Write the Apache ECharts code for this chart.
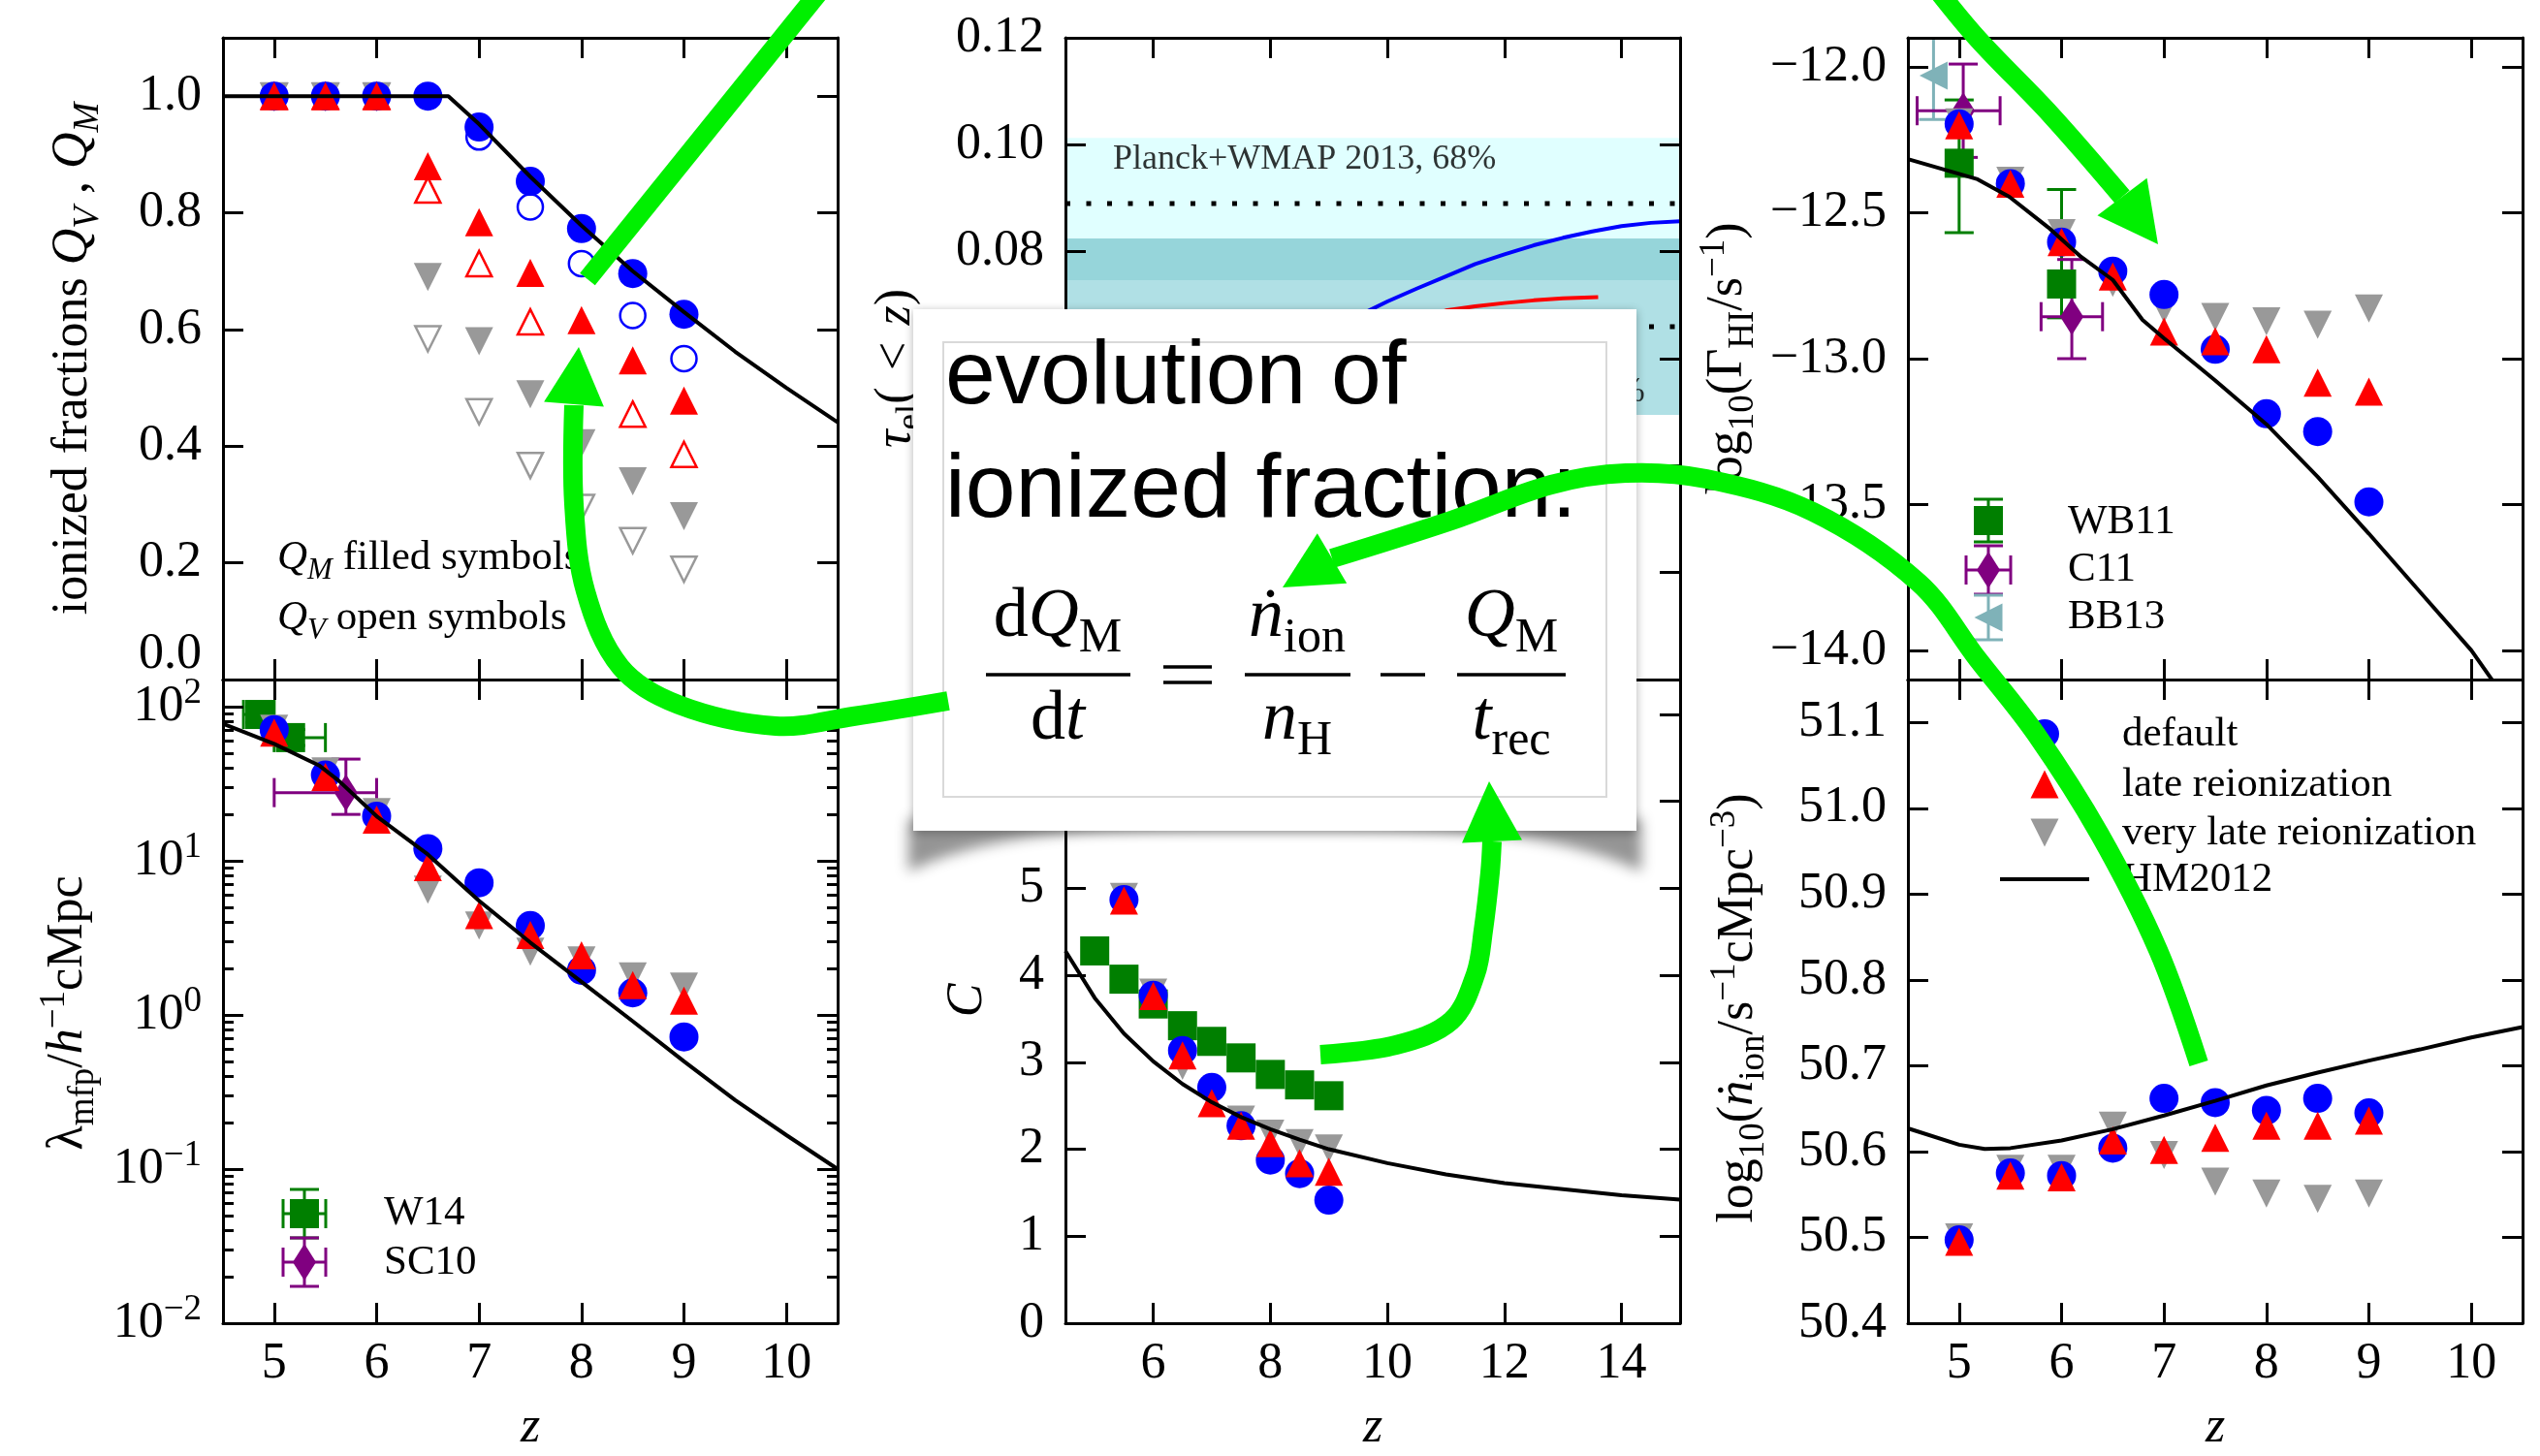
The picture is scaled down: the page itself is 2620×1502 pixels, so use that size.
<!DOCTYPE html>
<html>
<head>
<meta charset="utf-8">
<title>Reionization simulations: ionized fraction, optical depth, photoionization rate</title>
<script src="https://cdn.jsdelivr.net/npm/echarts@6/dist/echarts.min.js"></script>
<style>
  html, body { margin: 0; padding: 0; background: #ffffff; }
  #chart { width: 2620px; height: 1502px; }
</style>
</head>
<body>
<div id="chart"></div>
<script>
// ---------------------------------------------------------------------------
// Data
// ---------------------------------------------------------------------------
const zSim = [5, 5.5, 6, 6.5, 7, 7.5, 8, 8.5, 9];

// ionized fractions: mass weighted (Q_M) and volume weighted (Q_V)
const qmDefault  = [1.0, 1.0, 1.0, 1.0, 0.947, 0.854, 0.773, 0.696, 0.626];
const qvDefault  = [1.0, 1.0, 1.0, 1.0, 0.930, 0.810, 0.713, 0.624, 0.550];
const qmLate     = [1.0, 1.0, 1.0, 0.880, 0.784, 0.697, 0.616, 0.547, 0.478];
const qvLate     = [1.0, 1.0, 1.0, 0.839, 0.713, 0.613, 0.520, 0.455, 0.386];
const qmVeryLate = [1.0, 1.0, 1.0, 0.690, 0.580, 0.489, 0.405, 0.340, 0.280];
const qvVeryLate = [1.0, 1.0, 1.0, 0.584, 0.459, 0.367, 0.295, 0.238, 0.189];
const zQHM = [4.5, 6.7, 7.0, 7.5, 8.0, 8.5, 9.0, 9.5, 10.0, 10.5];
const qHM  = [1.0, 1.0, 0.952, 0.862, 0.778, 0.700, 0.630, 0.562, 0.500, 0.441];

// Thomson optical depth tau_el(<z)
const zTauDefault = [4.5, 5, 5.5, 6, 6.5, 7, 7.5, 8, 8.5, 9, 9.5, 10, 10.5, 11, 11.5, 12, 12.5, 13, 13.5, 14, 14.5, 15];
const tauDefault  = [0.030, 0.034, 0.038, 0.042, 0.046, 0.050, 0.054, 0.058, 0.0615, 0.065, 0.068, 0.0707, 0.0731, 0.0754, 0.0777, 0.0795, 0.0812, 0.0826, 0.0838, 0.0848, 0.0854, 0.0857];
const zTauLate = [4.5, 5, 5.5, 6, 6.5, 7, 7.5, 8, 8.5, 9, 9.5, 10, 10.5, 11, 11.5, 12, 12.5, 13, 13.6];
const tauLate  = [0.028, 0.031, 0.034, 0.037, 0.040, 0.044, 0.048, 0.052, 0.056, 0.060, 0.063, 0.0655, 0.0675, 0.0690, 0.0698, 0.0704, 0.0709, 0.0713, 0.0715];
const planck13Band = [0.0747, 0.1013];
const planck13Tau = 0.089;
const planck15Band = [0.0495, 0.0825];
const planck15Tau = 0.066;

// log10 photoionization rate
const gamDefault  = [-12.195, -12.400, -12.600, -12.700, -12.780, -12.968, -13.189, -13.250, -13.491];
const gamLate     = [-12.200, -12.400, -12.600, -12.718, -12.907, -12.940, -12.968, -13.082, -13.113];
const gamVeryLate = [-12.190, -12.390, -12.570, -12.740, -12.830, -12.857, -12.872, -12.884, -12.828];
const zGamHM = [4.5, 5.18, 5.49, 5.87, 6.19, 6.5, 6.79, 7.0, 7.5, 8.0, 8.5, 9.0, 9.5, 10.0, 10.5];
const gamHM  = [-12.316, -12.385, -12.445, -12.550, -12.651, -12.730, -12.867, -12.930, -13.075, -13.225, -13.405, -13.600, -13.800, -14.000, -14.250];
// observations: [z, value, zLow, zHigh, valueLow, valueHigh]
const obsWB11 = [[5.0, -12.33, 5.0, 5.0, -12.568, -12.113], [6.0, -12.744, 6.0, 6.0, -12.86, -12.42]];
const obsC11  = [[5.04, -12.15, 4.59, 5.40, -12.31, -11.99], [6.10, -12.856, 5.80, 6.40, -13.0, -12.66]];
const obsBB13 = [[4.75, -12.03, 4.75, 4.75, -12.18, -11.83]];

// mean free path (h^-1 cMpc)
const mfpDefault  = [71, 36, 19.5, 12.0, 7.2, 3.8, 1.95, 1.39, 0.72];
const mfpLate     = [68, 35, 18.5, 9.1, 4.45, 3.3, 2.44, 1.56, 1.24];
const mfpVeryLate = [72, 38, 20.7, 6.5, 3.8, 2.57, 2.26, 1.78, 1.53];
const zMfpHM = [4.5, 5.0, 5.445, 5.63, 6.01, 6.5, 7.0, 7.5, 8.0, 8.5, 9.0, 9.5, 10.0, 10.5];
const mfpHM  = [77.4, 57.4, 41.3, 33.1, 19.2, 11.0, 5.5, 2.95, 1.64, 0.91, 0.50, 0.28, 0.166, 0.10];
const obsW14  = [[4.86, 89, 4.70, 5.00, 79, 100], [5.16, 63, 5.00, 5.50, 56, 71]];
const obsSC10 = [[5.70, 27.7, 5.00, 6.00, 20, 45.7]];

// clumping factor
const zClump = [5.5, 6, 6.5, 7, 7.5, 8, 8.5, 9];
const clumpDefault  = [4.87, 3.77, 3.135, 2.71, 2.27, 1.876, 1.72, 1.415];
const clumpLate     = [4.86, 3.76, 3.08, 2.53, 2.27, 2.07, 1.84, 1.74];
const clumpVeryLate = [4.90, 3.80, 2.96, 2.60, 2.34, 2.18, 2.07, 2.01];
const zClumpFit = [5, 5.5, 6, 6.5, 7, 7.5, 8, 8.5, 9];
const clumpFit  = [4.28, 3.955, 3.67, 3.42, 3.24, 3.05, 2.86, 2.74, 2.615];
const zClumpHM = [4.5, 5, 5.5, 6, 6.5, 7, 7.5, 8, 8.5, 9, 10, 11, 12, 13, 14, 15];
const clumpHM  = [4.28, 3.74, 3.33, 3.01, 2.75, 2.54, 2.37, 2.23, 2.11, 2.00, 1.84, 1.71, 1.61, 1.54, 1.47, 1.42];

// log10 ionizing emissivity
const nionDefault  = [50.497, 50.575, 50.572, 50.604, 50.662, 50.657, 50.648, 50.662, 50.645];
const nionLate     = [50.495, 50.572, 50.570, 50.613, 50.602, 50.616, 50.630, 50.630, 50.636];
const nionVeryLate = [50.500, 50.580, 50.580, 50.630, 50.596, 50.565, 50.551, 50.545, 50.551];
const zNionHM = [4.5, 5.0, 5.25, 5.5, 6, 6.5, 7, 7.5, 8, 8.5, 9, 9.5, 10, 10.5];
const nionHM  = [50.627, 50.608, 50.603, 50.604, 50.613, 50.626, 50.642, 50.659, 50.677, 50.692, 50.706, 50.719, 50.733, 50.745];

// tick positions
const zTicks = [5, 6, 7, 8, 9, 10];
const zTicksWide = [6, 8, 10, 12, 14];
const qTicks = [0, 0.2, 0.4, 0.6, 0.8, 1.0];
const tauTicks = [0, 0.02, 0.04, 0.06, 0.08, 0.10, 0.12];
const gamTicks = [-14.0, -13.5, -13.0, -12.5, -12.0];
const mfpDecades = [-2, -1, 0, 1, 2];
const clumpTicks = [0, 1, 2, 3, 4, 5, 6, 7];
const nionTicks = [50.4, 50.5, 50.6, 50.7, 50.8, 50.9, 51.0, 51.1];

// ---------------------------------------------------------------------------
// Styling
// ---------------------------------------------------------------------------
const SERIF = 'Liberation Serif, Times New Roman, Times, serif';
const SANS = 'Liberation Sans, Helvetica, Arial, sans-serif';
const BLUE = '#0000ff', RED = '#ff0000', GRAY = '#999999';
const OBS_GREEN = '#007f00', PURPLE = '#800080', TEAL = '#7fb2b8';
const ARROW = '#00f000';
const FS = 52;       // tick / axis label size
const LFS = 43;      // legend text size

// rich styles for rotated axis titles
const RICH = {
  it:    { fontFamily: SERIF, fontStyle: 'italic', fontSize: FS, fill: '#000' },
  sub:   { fontFamily: SERIF, fontSize: 37, padding: [32, 0, 0, 0], fill: '#000' },
  subit: { fontFamily: SERIF, fontStyle: 'italic', fontSize: 37, padding: [32, 0, 0, 0], fill: '#000' },
  sup:   { fontFamily: SERIF, fontSize: 37, padding: [0, 0, 28, 0], fill: '#000' }
};
// rich styles for tick labels
const TICKRICH = {
  n:    { fontFamily: SERIF, fontSize: FS, fill: '#000' },
  lift: { fontFamily: SERIF, fontSize: FS, fill: '#000', padding: [0, 0, 52, 0] },
  sup:  { fontFamily: SERIF, fontSize: 37, fill: '#000', padding: [0, 0, 28, 0] }
};

const panels = [
  { left: 230,  top: 39,  width: 634, height: 662 },  // ionized fractions
  { left: 1099, top: 39,  width: 634, height: 662 },  // optical depth
  { left: 1968, top: 39,  width: 634, height: 662 },  // photoionization rate
  { left: 230,  top: 701, width: 634, height: 664 },  // mean free path
  { left: 1099, top: 701, width: 634, height: 664 },  // clumping factor
  { left: 1968, top: 701, width: 634, height: 664 }   // emissivity
];

const option = {
  animation: false,
  backgroundColor: '#ffffff',
  textStyle: { fontFamily: SERIF, color: '#000' },
  grid: [], xAxis: [], yAxis: [], series: [],
  graphic: { elements: [] }
};
const ax = [];
const S = option.series;

function tickStyle(values, len) {
  return { show: true, inside: true, length: len, customValues: values,
           lineStyle: { color: '#000', width: 3 } };
}
function baseAxis(gi) {
  return { type: 'value', gridIndex: gi, z: 5, splitLine: { show: false }, axisLabel: { show: false },
           axisLine: { show: true, onZero: false, lineStyle: { color: '#000', width: 3 } } };
}

// tick labels placed through the axis scales
function tickLabels(gi, dir, values, fmt, fixed) {
  return {
    type: 'custom', xAxisIndex: ax[gi].x, yAxisIndex: ax[gi].y, z: 6, silent: true, clip: false,
    dimensions: ['v'], encode: dir === 'x' ? { x: 0 } : { y: 0 },
    data: values.map(v => [v]),
    renderItem(params, api) {
      const v = api.value(0);
      const p = dir === 'x' ? api.coord([v, fixed]) : api.coord([fixed, v]);
      const isX = dir === 'x';
      return {
        type: 'text', x: isX ? p[0] : p[0] - 22, y: isX ? p[1] + 16 : p[1],
        style: {
          text: fmt(v), rich: TICKRICH, fontFamily: SERIF, fontSize: FS, fill: '#000',
          align: isX ? 'center' : 'right', textAlign: isX ? 'center' : 'right',
          verticalAlign: isX ? 'top' : 'middle', textVerticalAlign: isX ? 'top' : 'middle'
        }
      };
    }
  };
}

function addPanel(gi, xc, yc) {
  const p = panels[gi];
  option.grid.push({ left: p.left, top: p.top, width: p.width, height: p.height, containLabel: false });
  const xb = Object.assign(baseAxis(gi), {
    position: 'bottom', min: xc.min, max: xc.max, axisTick: tickStyle(xc.ticks, 21)
  });
  if (xc.labels) {
    Object.assign(xb, { name: 'z', nameLocation: 'middle', nameGap: 82,
      nameTextStyle: { fontFamily: SERIF, fontStyle: 'italic', fontSize: FS, color: '#000' } });
  }
  const xi = option.xAxis.push(xb) - 1;
  option.xAxis.push(Object.assign(baseAxis(gi), {
    position: 'top', min: xc.min, max: xc.max, axisTick: tickStyle(xc.ticks, 21)
  }));
  const yi = option.yAxis.push(Object.assign(baseAxis(gi), {
    position: 'left', min: yc.min, max: yc.max, axisTick: tickStyle(yc.ticks, 21)
  })) - 1;
  option.yAxis.push(Object.assign(baseAxis(gi), {
    position: 'right', min: yc.min, max: yc.max, axisTick: tickStyle(yc.ticks, 21)
  }));
  if (yc.minor) {
    ['left', 'right'].forEach(pos => {
      option.yAxis.push({ type: 'value', gridIndex: gi, position: pos, min: yc.min, max: yc.max, z: 5,
        splitLine: { show: false }, axisLine: { show: false, onZero: false },
        axisTick: tickStyle(yc.minor, 11), axisLabel: { show: false } });
    });
  }
  ax[gi] = { x: xi, y: yi };
  if (xc.labels) S.push(tickLabels(gi, 'x', xc.ticks, v => '{n|' + v + '}', yc.min));
  S.push(tickLabels(gi, 'y', yc.ticks, yc.fmt, xc.min));
}

const tok = s => '{n|' + s + '}';
const fmtFixed = d => v => tok(v.toFixed(d));
const fmtQ = v => (Math.abs(v) < 1e-9 ? '{lift|0.0}' : tok(v.toFixed(1)));
const fmtMinus = v => tok((v < 0 ? '\u2212' : '') + Math.abs(v).toFixed(1));
const fmtPow = v => { const n = Math.round(v); return '{n|10}{sup|' + (n < 0 ? '\u2212' + (-n) : String(n)) + '}'; };
const log10 = v => Math.log10(v);

const mfpMinor = [];
for (let d = -2; d <= 1; d++) for (let k = 2; k <= 9; k++) mfpMinor.push(Math.log10(k * Math.pow(10, d)));

addPanel(0, { min: 4.5, max: 10.5, ticks: zTicks, labels: false }, { min: 0, max: 1.1, ticks: qTicks, fmt: fmtQ });
addPanel(1, { min: 4.5, max: 15, ticks: zTicksWide, labels: false }, { min: 0, max: 0.12, ticks: tauTicks, fmt: fmtFixed(2) });
addPanel(2, { min: 4.5, max: 10.5, ticks: zTicks, labels: false }, { min: -14.1, max: -11.9, ticks: gamTicks, fmt: fmtMinus });
addPanel(3, { min: 4.5, max: 10.5, ticks: zTicks, labels: true }, { min: -2, max: Math.log10(150), ticks: mfpDecades, fmt: fmtPow, minor: mfpMinor });
addPanel(4, { min: 4.5, max: 15, ticks: zTicksWide, labels: true }, { min: 0, max: 7.4, ticks: clumpTicks, fmt: v => tok(String(Math.round(v))) });
addPanel(5, { min: 4.5, max: 10.5, ticks: zTicks, labels: true }, { min: 50.4, max: 51.15, ticks: nionTicks, fmt: fmtFixed(1) });

// ---------------------------------------------------------------------------
// Series helpers
// ---------------------------------------------------------------------------
const SYMBOLS = {
  circle:  ['circle', 30, 0],
  up:      ['triangle', 29, 0],
  down:    ['triangle', 29, 180],
  left:    ['triangle', 29, 90],
  square:  ['rect', 30, 0],
  diamond: ['diamond', [24, 38], 0]
};
function scatter(name, gi, xs, ys, kind, color, opts) {
  opts = opts || {};
  const s = SYMBOLS[kind];
  const tf = opts.tf || (v => v);
  const data = [];
  xs.forEach((x, i) => { if (ys[i] != null) data.push([x, tf(ys[i])]); });
  return {
    type: 'scatter', name, xAxisIndex: ax[gi].x, yAxisIndex: ax[gi].y, z: opts.z || 3, silent: true,
    symbol: s[0], symbolSize: opts.open ? 26 : s[1], symbolRotate: s[2],
    itemStyle: opts.open
      ? { color: 'rgba(255,255,255,0)', borderColor: color, borderWidth: 2.5, opacity: 1 }
      : { color, opacity: 1 },
    data
  };
}
function curve(name, gi, xs, ys, color, width, tf, dash) {
  const f = tf || (v => v);
  return {
    type: 'line', name, xAxisIndex: ax[gi].x, yAxisIndex: ax[gi].y, z: dash ? 3 : 4, silent: true,
    symbol: 'none', showSymbol: false, smooth: false, clip: true,
    lineStyle: dash ? { color, width, type: dash, cap: 'butt' } : { color, width },
    data: xs.map((x, i) => [x, f(ys[i])])
  };
}
const CAP = 15;
function errorBars(gi, rows, color, tf) {
  const f = tf || (v => v);
  return {
    type: 'custom', xAxisIndex: ax[gi].x, yAxisIndex: ax[gi].y, z: 2, silent: true,
    dimensions: ['x', 'y', 'x0', 'x1', 'y0', 'y1'], encode: { x: 0, y: 1 },
    data: rows.map(r => [r[0], f(r[1]), r[2], r[3], f(r[4]), f(r[5])]),
    renderItem(params, api) {
      const cs = params.coordSys, top = cs.y, bottom = cs.y + cs.height;
      const clampY = y => Math.min(bottom, Math.max(top, y));
      const x = api.value(0), y = api.value(1);
      const x0 = api.value(2), x1 = api.value(3), y0 = api.value(4), y1 = api.value(5);
      const st = { stroke: color, lineWidth: 3 };
      const kids = [];
      const seg = (a, b, c, d) => kids.push({ type: 'line', shape: { x1: a, y1: b, x2: c, y2: d }, style: st });
      if (x1 > x0) {
        const a = api.coord([x0, y]), b = api.coord([x1, y]);
        seg(a[0], a[1], b[0], b[1]);
        seg(a[0], a[1] - CAP, a[0], a[1] + CAP);
        seg(b[0], b[1] - CAP, b[0], b[1] + CAP);
      }
      if (y1 > y0) {
        const a = api.coord([x, y0]), b = api.coord([x, y1]);
        seg(a[0], clampY(a[1]), b[0], clampY(b[1]));
        if (a[1] >= top && a[1] <= bottom) seg(a[0] - CAP, a[1], a[0] + CAP, a[1]);
        if (b[1] >= top && b[1] <= bottom) seg(b[0] - CAP, b[1], b[0] + CAP, b[1]);
      }
      return { type: 'group', children: kids };
    }
  };
}
function textPoint(gi, x, y, text, position, size) {
  return {
    type: 'scatter', xAxisIndex: ax[gi].x, yAxisIndex: ax[gi].y, z: 3, silent: true,
    symbolSize: 0, data: [[x, y]],
    label: { show: true, position, distance: 0, formatter: text,
             fontFamily: SERIF, fontSize: size, color: '#000' }
  };
}

// ionized fractions
S.push(scatter('very late reionization', 0, zSim, qvVeryLate, 'down', GRAY, { open: true }));
S.push(scatter('late reionization', 0, zSim, qvLate, 'up', RED, { open: true }));
S.push(scatter('default', 0, zSim, qvDefault, 'circle', BLUE, { open: true }));
S.push(scatter('very late reionization', 0, zSim, qmVeryLate, 'down', GRAY));
S.push(scatter('default', 0, zSim, qmDefault, 'circle', BLUE));
S.push(scatter('late reionization', 0, zSim, qmLate, 'up', RED));
S.push(curve('HM2012', 0, zQHM, qHM, '#000', 4));

// optical depth with CMB constraints (68% bands and central values)
S.push({
  type: 'line', name: 'CMB constraints', xAxisIndex: ax[1].x, yAxisIndex: ax[1].y, z: 1, silent: true,
  symbol: 'none', showSymbol: false, lineStyle: { width: 0, opacity: 0 },
  data: [[4.5, planck13Tau], [15, planck13Tau]],
  markArea: {
    silent: true,
    data: [
      [{ yAxis: planck13Band[0], itemStyle: { color: '#e0ffff' } }, { yAxis: planck13Band[1] }],
      [{ yAxis: planck15Band[0], itemStyle: { color: '#b0e0e5' } }, { yAxis: planck15Band[1] }],
      [{ yAxis: Math.max(planck13Band[0], planck15Band[0]), itemStyle: { color: '#96d5da' } },
       { yAxis: Math.min(planck13Band[1], planck15Band[1]) }]
    ]
  }
});
S.push(curve('Planck+WMAP 2013', 1, [4.5, 15], [planck13Tau, planck13Tau], '#000', 5, null, [5, 16.5]));
S.push(curve('Planck 2015', 1, [4.5, 15], [planck15Tau, planck15Tau], '#000', 5, null, [5, 16.5]));
S.push(curve('default', 1, zTauDefault, tauDefault, BLUE, 4));
S.push(curve('late reionization', 1, zTauLate, tauLate, RED, 4));
S.push(textPoint(1, 5.31, 0.0972, 'Planck+WMAP 2013, 68%', 'right', 36));
S.push(textPoint(1, 14.4, 0.0537, 'Planck 2015, 68%', 'left', 36));

// photoionization rate
S.push(errorBars(2, obsBB13, TEAL));
S.push(errorBars(2, obsWB11, OBS_GREEN));
S.push(errorBars(2, obsC11, PURPLE));
S.push(scatter('BB13', 2, obsBB13.map(r => r[0]), obsBB13.map(r => r[1]), 'left', TEAL, { z: 2 }));
S.push(scatter('WB11', 2, obsWB11.map(r => r[0]), obsWB11.map(r => r[1]), 'square', OBS_GREEN, { z: 2 }));
S.push(scatter('C11', 2, obsC11.map(r => r[0]), obsC11.map(r => r[1]), 'diamond', PURPLE, { z: 2 }));
S.push(scatter('very late reionization', 2, zSim, gamVeryLate, 'down', GRAY));
S.push(scatter('default', 2, zSim, gamDefault, 'circle', BLUE));
S.push(scatter('late reionization', 2, zSim, gamLate, 'up', RED));
S.push(curve('HM2012', 2, zGamHM, gamHM, '#000', 4));

// mean free path (log scale)
S.push(errorBars(3, obsW14, OBS_GREEN, log10));
S.push(errorBars(3, obsSC10, PURPLE, log10));
S.push(scatter('W14', 3, obsW14.map(r => r[0]), obsW14.map(r => r[1]), 'square', OBS_GREEN, { z: 2, tf: log10 }));
S.push(scatter('SC10', 3, obsSC10.map(r => r[0]), obsSC10.map(r => r[1]), 'diamond', PURPLE, { z: 2, tf: log10 }));
S.push(scatter('very late reionization', 3, zSim, mfpVeryLate, 'down', GRAY, { tf: log10 }));
S.push(scatter('default', 3, zSim, mfpDefault, 'circle', BLUE, { tf: log10 }));
S.push(scatter('late reionization', 3, zSim, mfpLate, 'up', RED, { tf: log10 }));
S.push(curve('HM2012', 3, zMfpHM, mfpHM, '#000', 4, log10));

// clumping factor
S.push(scatter('clumping fit', 4, zClumpFit, clumpFit, 'square', OBS_GREEN, { z: 2 }));
S.push(scatter('very late reionization', 4, zClump, clumpVeryLate, 'down', GRAY));
S.push(scatter('default', 4, zClump, clumpDefault, 'circle', BLUE));
S.push(scatter('late reionization', 4, zClump, clumpLate, 'up', RED));
S.push(curve('HM2012', 4, zClumpHM, clumpHM, '#000', 4));

// emissivity
S.push(scatter('very late reionization', 5, zSim, nionVeryLate, 'down', GRAY));
S.push(scatter('default', 5, zSim, nionDefault, 'circle', BLUE));
S.push(scatter('late reionization', 5, zSim, nionLate, 'up', RED));
S.push(curve('HM2012', 5, zNionHM, nionHM, '#000', 4));

// ---------------------------------------------------------------------------
// Axis titles, legends and the annotation overlay
// ---------------------------------------------------------------------------
const G = option.graphic.elements;
function text(x, y, str, o) {
  o = o || {};
  G.push({
    type: 'text', x, y, z: o.z || 20, rotation: o.rot || 0, silent: true,
    style: {
      text: str, rich: o.rich || RICH,
      fontFamily: o.family || SERIF, fontSize: o.size || FS, fontStyle: o.italic ? 'italic' : 'normal',
      fill: '#000',
      align: o.align || 'center', textAlign: o.align || 'center',
      verticalAlign: 'middle', textVerticalAlign: 'middle'
    }
  });
}
const ROT = Math.PI / 2;
text(75, 370, 'ionized fractions {it|Q}{subit|V} , {it|Q}{subit|M}', { rot: ROT });
text(924, 380, '{it|\u03c4}{sub|el}(\u2004<\u2004{it|z})', { rot: ROT });
text(1782, 370, 'log{sub|10}(\u0393{sub|HI}/s{sup|\u22121})', { rot: ROT });
text(70, 1045, '\u03bb{sub|mfp}/{it|h}{sup|\u22121}cMpc', { rot: ROT });
text(998, 1032, '{it|C}', { rot: ROT });
text(1793, 1040, 'log{sub|10}({it|\u1e45}{sub|ion}/s{sup|\u22121}cMpc{sup|\u22123})', { rot: ROT });

const LRICH = {
  it:    { fontFamily: SERIF, fontStyle: 'italic', fontSize: LFS, fill: '#000' },
  subit: { fontFamily: SERIF, fontStyle: 'italic', fontSize: 31, padding: [26, 0, 0, 0], fill: '#000' }
};
text(286, 576, '{it|Q}{subit|M} filled symbols', { size: LFS, align: 'left', rich: LRICH });
text(286, 638, '{it|Q}{subit|V} open symbols', { size: LFS, align: 'left', rich: LRICH });

// legend keys
function segEl(x1, y1, x2, y2, color, w) {
  G.push({ type: 'line', z: 20, silent: true, shape: { x1, y1, x2, y2 }, style: { stroke: color, lineWidth: w || 3 } });
}
function keyBars(cx, cy, color, hx, hy) {
  if (hx) { segEl(cx - hx, cy, cx + hx, cy, color); segEl(cx - hx, cy - CAP, cx - hx, cy + CAP, color); segEl(cx + hx, cy - CAP, cx + hx, cy + CAP, color); }
  if (hy) { segEl(cx, cy - hy, cx, cy + hy, color); segEl(cx - CAP, cy - hy, cx + CAP, cy - hy, color); segEl(cx - CAP, cy + hy, cx + CAP, cy + hy, color); }
}
function keyMarker(kind, cx, cy, color) {
  const h = 14.5;
  let el;
  if (kind === 'circle') el = { type: 'circle', shape: { cx, cy, r: 15 } };
  else if (kind === 'square') el = { type: 'rect', shape: { x: cx - 15, y: cy - 15, width: 30, height: 30 } };
  else if (kind === 'up') el = { type: 'polygon', shape: { points: [[cx, cy - h], [cx + h, cy + h], [cx - h, cy + h]] } };
  else if (kind === 'down') el = { type: 'polygon', shape: { points: [[cx, cy + h], [cx + h, cy - h], [cx - h, cy - h]] } };
  else if (kind === 'left') el = { type: 'polygon', shape: { points: [[cx - h, cy], [cx + h, cy - h], [cx + h, cy + h]] } };
  else if (kind === 'diamond') el = { type: 'polygon', shape: { points: [[cx, cy - 19], [cx + 12, cy], [cx, cy + 19], [cx - 12, cy]] } };
  el.z = 21; el.silent = true; el.style = { fill: color };
  G.push(el);
}
// emissivity panel legend
keyMarker('circle', 2109, 757, BLUE);
keyMarker('up', 2109, 809, RED);
keyMarker('down', 2109, 859, GRAY);
segEl(2063, 907, 2155, 907, '#000', 4);
text(2189, 758, 'default', { size: LFS, align: 'left' });
text(2189, 810, 'late reionization', { size: LFS, align: 'left' });
text(2189, 860, 'very late reionization', { size: LFS, align: 'left' });
text(2189, 908, 'HM2012', { size: LFS, align: 'left' });
// photoionization panel legend
keyBars(2051, 537, OBS_GREEN, 0, 22); keyMarker('square', 2051, 537, OBS_GREEN);
keyBars(2051, 588, PURPLE, 23, 25); keyMarker('diamond', 2051, 588, PURPLE);
keyBars(2051, 637, TEAL, 0, 23); keyMarker('left', 2051, 637, TEAL);
text(2133, 539, 'WB11', { size: LFS, align: 'left' });
text(2133, 588, 'C11', { size: LFS, align: 'left' });
text(2133, 637, 'BB13', { size: LFS, align: 'left' });
// mean free path legend
keyBars(314, 1252, OBS_GREEN, 22, 25); keyMarker('square', 314, 1252, OBS_GREEN);
keyBars(314, 1302, PURPLE, 22, 25); keyMarker('diamond', 314, 1302, PURPLE);
text(396, 1252, 'W14', { size: LFS, align: 'left' });
text(396, 1303, 'SC10', { size: LFS, align: 'left' });

// note card with the evolution equation
const BOX = { x: 942, y: 319, w: 746, h: 538 };
const curl = [];
for (let i = 0; i <= 40; i++) {
  const u = -1 + i / 20;
  curl.push([1315 + u * 378 + 4000, 855 + 44 * Math.pow(u, 4)]);
}
curl.push([1693 + 4000, 845], [937 + 4000, 845]);
G.push({ type: 'polygon', z: 48, silent: true, shape: { points: curl },
  style: { fill: '#000', shadowColor: 'rgba(0,0,0,0.42)', shadowBlur: 14, shadowOffsetX: -4000 } });
G.push({ type: 'rect', z: 49, silent: true, shape: { x: BOX.x, y: BOX.y, width: BOX.w, height: BOX.h },
  style: { fill: '#fff', shadowColor: 'rgba(0,0,0,0.3)', shadowBlur: 9, shadowOffsetY: 2 } });
G.push({ type: 'rect', z: 50, silent: true, shape: { x: 973, y: 353, width: 684, height: 469 },
  style: { fill: 'none', stroke: '#d9d9d9', lineWidth: 2 } });
text(975, 390, 'evolution of', { family: SANS, size: 93, align: 'left', z: 51 });
text(975, 507, 'ionized fraction:', { family: SANS, size: 93, align: 'left', z: 51 });

const EQ = 72, EQS = 50;
const ERICH = {
  it:  { fontFamily: SERIF, fontStyle: 'italic', fontSize: EQ, fill: '#000' },
  sub: { fontFamily: SERIF, fontSize: EQS, padding: [44, 0, 0, 0], fill: '#000' }
};
const numY = 661 - 0.3375 * EQ, denY = 767 - 0.3375 * EQ;
text(1091, numY, 'd{it|Q}{sub|M}', { size: EQ, rich: ERICH, z: 51 });
text(1338, numY, '{it|\u1e45}{sub|ion}', { size: EQ, rich: ERICH, z: 51 });
text(1559, numY, '{it|Q}{sub|M}', { size: EQ, rich: ERICH, z: 51 });
text(1091, denY, 'd{it|t}', { size: EQ, rich: ERICH, z: 51 });
text(1338, denY, '{it|n}{sub|H}', { size: EQ, rich: ERICH, z: 51 });
text(1559, denY, '{it|t}{sub|rec}', { size: EQ, rich: ERICH, z: 51 });
[[1017, 1166], [1284, 1393], [1503, 1615]].forEach(b => {
  G.push({ type: 'line', z: 51, silent: true, shape: { x1: b[0], y1: 696, x2: b[1], y2: 696 }, style: { stroke: '#000', lineWidth: 3.5 } });
});
G.push({ type: 'line', z: 51, silent: true, shape: { x1: 1200, y1: 688, x2: 1250, y2: 688 }, style: { stroke: '#000', lineWidth: 3.5 } });
G.push({ type: 'line', z: 51, silent: true, shape: { x1: 1200, y1: 704, x2: 1250, y2: 704 }, style: { stroke: '#000', lineWidth: 3.5 } });
G.push({ type: 'line', z: 51, silent: true, shape: { x1: 1424, y1: 696, x2: 1470, y2: 696 }, style: { stroke: '#000', lineWidth: 3.5 } });

// green pointer arrows
function arrow(points, head) {
  G.push({ type: 'polyline', z: 60, silent: true, shape: { points, smooth: 0.35 },
    style: { stroke: ARROW, lineWidth: 20, fill: 'none', lineCap: 'butt', lineJoin: 'round' } });
  if (head) {
    const dx = head.tip[0] - head.base[0], dy = head.tip[1] - head.base[1];
    const L = Math.hypot(dx, dy), nx = -dy / L, ny = dx / L;
    G.push({ type: 'polygon', z: 61, silent: true, shape: { points: [
      head.tip,
      [head.base[0] + nx * head.half, head.base[1] + ny * head.half],
      [head.base[0] - nx * head.half, head.base[1] - ny * head.half]] },
      style: { fill: ARROW } });
  }
}
arrow([[848, -12], [606, 288]]);
arrow([[978, 723], [880, 739], [800, 749], [700, 727], [640, 688], [604, 610], [592, 520], [592, 418]],
      { tip: [597, 358], base: [592, 417], half: 31 });
arrow([[1997, -12], [2040, 40], [2115, 118], [2189, 203]],
      { tip: [2226, 252], base: [2189, 203], half: 32 });
arrow([[2268, 1097], [2226, 980], [2166, 861], [2100, 757], [2040, 680], [1979, 601], [1870, 528], [1760, 494],
       [1677, 488], [1600, 500], [1497, 537], [1374, 576]],
      { tip: [1323, 606], base: [1374, 576], half: 30 });
arrow([[1362, 1088], [1440, 1078], [1497, 1053], [1522, 1005], [1530, 960], [1537, 900], [1539, 868]],
      { tip: [1536, 806], base: [1539, 868], half: 31 });

const chart = echarts.init(document.getElementById('chart'), null, { renderer: 'canvas' });
chart.setOption(option);
</script>
</body>
</html>
